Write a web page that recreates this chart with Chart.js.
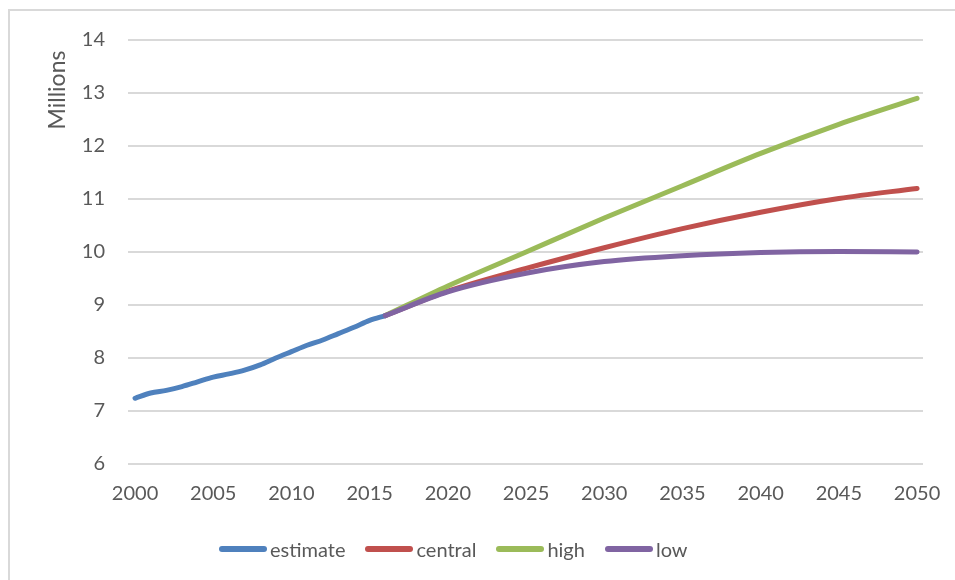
<!DOCTYPE html>
<html>
<head>
<meta charset="utf-8">
<script src="https://cdn.jsdelivr.net/npm/chart.js@4/dist/chart.umd.min.js"></script>
<style>
    html, body { margin: 0; padding: 0; background: #fff; overflow: hidden; }
    .frame {
        position: absolute; left: 8px; top: 9px; width: 1000px; height: 620px;
        border: 2px solid #d9d9d9; box-sizing: border-box;
    }
    .chart-box { position: absolute; left: 0; top: 0; width: 955px; height: 580px; }
    .chart-legend {
        position: absolute; left: 219px; top: 536px; height: 26px;
        display: flex; align-items: center;
        font-family: Lato, sans-serif; font-size: 20px; color: #595959;
    }
    .chart-legend__item { display: flex; align-items: center; margin-right: 20px; }
    .chart-legend__color { width: 48px; height: 6px; border-radius: 3px; margin-right: 3px; }
</style>
</head>
<body>
<div class="frame"></div>
<div class="chart-box"><canvas id="popChart" width="955" height="580"></canvas></div>
<div class="chart-legend" id="chartLegend"></div>
<script>
// Population, millions
const estimateYears = [2000, 2001, 2002, 2003, 2004, 2005, 2006, 2007, 2008,
                       2009, 2010, 2011, 2012, 2013, 2014, 2015, 2016];
const estimateValues = [7.24, 7.34, 7.39, 7.46, 7.55, 7.64, 7.70, 7.77, 7.87,
                        8.00, 8.12, 8.24, 8.34, 8.46, 8.58, 8.71, 8.80];

const projectionYears = [2016, 2020, 2025, 2030, 2035, 2040, 2045, 2050];
const centralValues = [8.80, 9.26, 9.69, 10.08, 10.44, 10.75, 11.01, 11.20];
const highValues    = [8.80, 9.36, 10.00, 10.64, 11.25, 11.86, 12.41, 12.90];
const lowValues     = [8.80, 9.25, 9.60, 9.82, 9.93, 9.99, 10.01, 10.00];

const xTicks = [2000, 2005, 2010, 2015, 2020, 2025, 2030, 2035, 2040, 2045, 2050];
const yTicks = [6, 7, 8, 9, 10, 11, 12, 13, 14];

const TEXT_COLOR = '#595959';
const GRID_COLOR = '#d9d9d9';
const TICK_FONT = { family: 'Lato', size: 20 };

function toPoints(years, values) {
    return years.map((year, i) => ({ x: year, y: values[i] }));
}

function lineSeries(label, years, values, color, order) {
    return {
        label,
        data: toPoints(years, values),
        borderColor: color,
        backgroundColor: color,
        borderWidth: 5,
        borderCapStyle: 'round',
        borderJoinStyle: 'round',
        cubicInterpolationMode: 'monotone',
        pointRadius: 0,
        pointHoverRadius: 0,
        fill: false,
        order
    };
}

// Rotated axis caption at the top of the value axis
const axisCaption = {
    id: 'axisCaption',
    afterDraw(chart) {
        const ctx = chart.ctx;
        ctx.save();
        ctx.translate(65, 90);
        ctx.rotate(-Math.PI / 2);
        ctx.font = '23px Lato';
        ctx.fillStyle = TEXT_COLOR;
        ctx.textAlign = 'center';
        ctx.textBaseline = 'alphabetic';
        ctx.fillText('Millions', 0, 0);
        ctx.restore();
    }
};

const datasets = [
    lineSeries('estimate', estimateYears, estimateValues, '#4f81bd', 1),
    lineSeries('central', projectionYears, centralValues, '#c0504d', 3),
    lineSeries('high', projectionYears, highValues, '#9bbb59', 2),
    lineSeries('low', projectionYears, lowValues, '#8064a2', 0)
];

const ctx = document.getElementById('popChart').getContext('2d');

new Chart(ctx, {
    type: 'line',
    data: { datasets },
    options: {
        responsive: false,
        animation: false,
        layout: { padding: { left: 0, right: 32, top: 40, bottom: 66 } },
        plugins: {
            legend: { display: false }, // HTML legend below the chart
            tooltip: { enabled: false }
        },
        scales: {
            x: {
                type: 'linear',
                min: 1999.55,
                max: 2050.38,
                afterBuildTicks: (scale) => {
                    scale.ticks = xTicks.map(v => ({ value: v }));
                },
                afterFit: (scale) => { scale.height = 50; },
                grid: { display: false },
                border: { display: false },
                ticks: {
                    color: TEXT_COLOR,
                    font: TICK_FONT,
                    padding: 10,
                    maxRotation: 0,
                    autoSkip: false,
                    callback: (value) => String(value)
                }
            },
            y: {
                min: 6,
                max: 14,
                afterBuildTicks: (scale) => {
                    scale.ticks = yTicks.map(v => ({ value: v }));
                },
                afterFit: (scale) => { scale.width = 128; },
                grid: { color: GRID_COLOR, lineWidth: 2, drawTicks: false },
                border: { display: false },
                ticks: {
                    color: TEXT_COLOR,
                    font: TICK_FONT,
                    padding: 23
                }
            }
        }
    },
    plugins: [axisCaption]
});

document.getElementById('chartLegend').innerHTML = datasets.map(ds => `
    <div class="chart-legend__item">
        <span class="chart-legend__color" style="background: ${ds.borderColor};"></span>
        <span class="chart-legend__label">${ds.label}</span>
    </div>
`).join('');
</script>
</body>
</html>
